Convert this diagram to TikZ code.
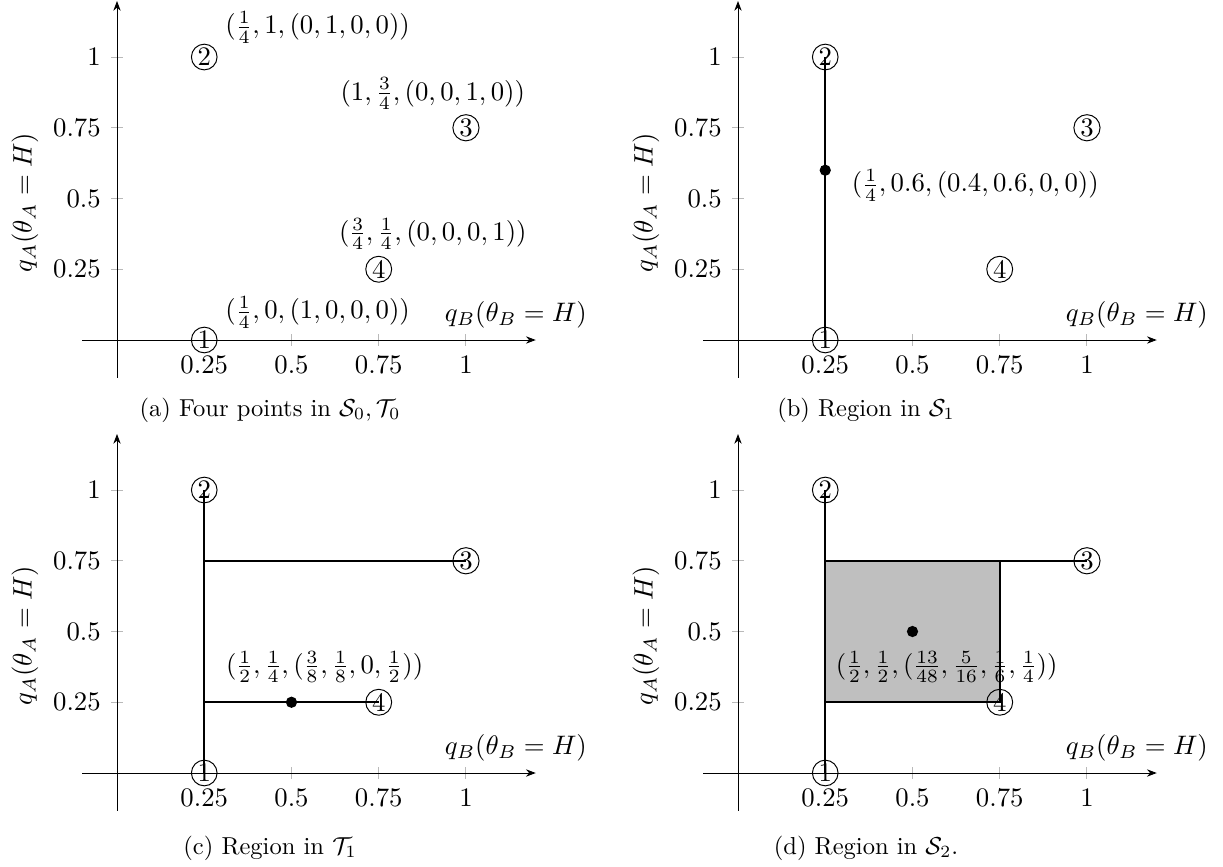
\RequirePackage{fix-cm}
\documentclass[tikz,border=0pt]{standalone}
\usepackage{amsmath}
\usetikzlibrary{arrows.meta}
\tikzset{
  axisline/.style={line width=0.4pt,-{Stealth[length=4pt,width=3pt]}},
  tickmark/.style={gray!55,line width=0.4pt},
  cnum/.style={circle,draw,line width=0.4pt,inner sep=0.5pt},
  seg/.style={line width=1pt},
  dotpt/.style={circle,fill=black,inner sep=0pt,minimum size=4.6pt},
  ptlabel/.style={inner sep=0pt},
  panel/.style={x=5cm,y=4.0545cm,font=\fontsize{10.9}{13}\selectfont}
}
\newcommand{\drawaxes}[1]{%
  \coordinate (#1xs) at (-0.1,0);
  \coordinate (#1xe) at (1.2,0);
  \coordinate (#1ys) at (0,-0.134);
  \coordinate (#1ye) at (0,1.198);
  \foreach \v/\k in {0.25/1,0.5/2,0.75/3,1/4}{
    \draw[tickmark] (\v,0) ++(0,-2.4pt) -- ++(0,4.8pt);
    \draw[tickmark] (0,\v) ++(-2.4pt,0) -- ++(4.8pt,0);
    \node[below,yshift=-3.3pt] (#1tx\k) at (\v,0) {$\v$};
    \node[left,xshift=-3.1pt] (#1ty\k) at (0,\v) {$\v$};
  }
  \draw[axisline] (#1xs) -- (#1xe);
  \draw[axisline] (#1ys) -- (#1ye);
  \node (#1xl) at (1.143,0.089) {$q_B(\theta_B = H)$};
  \node[rotate=90] (#1yl) at (-0.264,0.485) {$q_A(\theta_A = H)$};
}
\begin{document}
\begin{tikzpicture}[x=0.014327cm,y=-0.014327cm]
\useasboundingbox (0,0) rectangle (1223,867);

% ---------- (a)
\begin{scope}[shift={(117,340)},panel]
  \drawaxes{a}
  \node[cnum] (a1) at (0.25,0) {1};
  \node[cnum] (a2) at (0.25,1) {2};
  \node[cnum] (a3) at (1,0.75) {3};
  \node[cnum] (a4) at (0.75,0.25) {4};
  \node[ptlabel] (aL1) at (0.575,0.098) {$(\frac{1}{4}, 0, (1, 0, 0, 0))$};
  \node[ptlabel] (aL2) at (0.575,1.105) {$(\frac{1}{4}, 1, (0, 1, 0, 0))$};
  \node[ptlabel] (aL3) at (0.905,0.87) {$(1, \frac{3}{4}, (0, 0, 1, 0))$};
  \node[ptlabel] (aL4) at (0.905,0.375) {$(\frac{3}{4}, \frac{1}{4}, (0, 0, 0, 1))$};
\end{scope}

% ---------- (b)
\begin{scope}[shift={(738,340)},panel]
  \drawaxes{b}
  \node[cnum] (b1) at (0.25,0) {1};
  \node[cnum] (b2) at (0.25,1) {2};
  \node[cnum] (b3) at (1,0.75) {3};
  \node[cnum] (b4) at (0.75,0.25) {4};
  \draw[seg] (b1.center) -- (b2.center);
  \node[dotpt] (bd) at (0.25,0.6) {};
  \node[ptlabel] (bL) at (0.68,0.547) {$(\frac{1}{4}, 0.6, (0.4, 0.6, 0, 0))$};
\end{scope}

% ---------- (c)
\begin{scope}[shift={(117,773)},panel]
  \drawaxes{c}
  \node[cnum] (c1) at (0.25,0) {1};
  \node[cnum] (c2) at (0.25,1) {2};
  \node[cnum] (c3) at (1,0.75) {3};
  \node[cnum] (c4) at (0.75,0.25) {4};
  \coordinate (cj3) at (0.25,0.75);
  \coordinate (cj4) at (0.25,0.25);
  \draw[seg] (c1.center) -- (c2.center);
  \draw[seg] (cj3) -- (c3.center);
  \draw[seg] (cj4) -- (c4.center);
  \node[dotpt] (cd) at (0.5,0.25) {};
  \node[ptlabel] (cL) at (0.595,0.375) {$(\frac{1}{2}, \frac{1}{4}, (\frac{3}{8}, \frac{1}{8}, 0, \frac{1}{2}))$};
\end{scope}

% ---------- (d)
\begin{scope}[shift={(738,773)},panel]
  \drawaxes{d}
  \coordinate (dr1) at (0.25,0.25);
  \coordinate (dr2) at (0.75,0.75);
  \fill[lightgray] (dr1) rectangle (dr2);
  \node[cnum] (d1) at (0.25,0) {1};
  \node[cnum] (d2) at (0.25,1) {2};
  \node[cnum] (d3) at (1,0.75) {3};
  \node[cnum] (d4) at (0.75,0.25) {4};
  \node[ptlabel] (dL) at (0.598,0.375) {$(\frac{1}{2}, \frac{1}{2}, (\frac{13}{48}, \frac{5}{16}, \frac{1}{6}, \frac{1}{4}))$};
  \coordinate (dj3) at (0.25,0.75);
  \coordinate (dc) at (0.75,0.75);
  \draw[seg] (d1.center) -- (d2.center);
  \draw[seg] (dj3) -- (d3.center);
  \draw[seg] (dr1) -- (d4.center) -- (dc);
  \node[dotpt] (dd) at (0.5,0.5) {};
\end{scope}

% ---------- captions
\node (capa) at (270,410) {(a) Four points in $\mathcal{S}_0, \mathcal{T}_0$};
\node (capb) at (866,410) {(b) Region in $\mathcal{S}_1$};
\node (capc) at (270,848) {(c) Region in $\mathcal{T}_1$};
\node (capd) at (866,848) {(d) Region in $\mathcal{S}_2$.};
\end{tikzpicture}
\end{document}
